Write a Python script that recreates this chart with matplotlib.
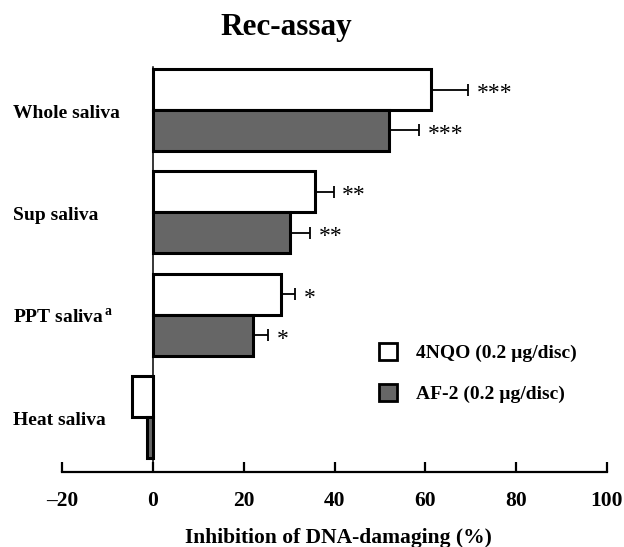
import matplotlib
matplotlib.use("Agg")
import matplotlib.pyplot as plt
import matplotlib.transforms as mtransforms
from matplotlib.patches import Patch
import numpy as np

groups = ["Whole saliva", "Sup saliva", "PPT saliva$^{\\,\\mathregular{a}}$", "Heat saliva"]
nqo = [61.3, 35.6, 28.3, -4.6]
nqo_err = [8.2, 4.2, 3.1, 0]
af2 = [52.0, 30.3, 22.1, -1.3]
af2_err = [6.7, 4.4, 3.3, 0]
nqo_stars = ["***", "**", "*", ""]
af2_stars = ["***", "**", "*", ""]
series_labels = ["4NQO (0.2 \u00b5g/disc)", "AF-2 (0.2 \u00b5g/disc)"]
xticks = [-20, 0, 20, 40, 60, 80, 100]
xticklabels = ["\u201320", "0", "20", "40", "60", "80", "100"]

plt.rcParams["font.family"] = ["Liberation Serif", "DejaVu Serif"]
plt.rcParams["font.weight"] = "bold"
plt.rcParams["mathtext.fontset"] = "custom"
plt.rcParams["mathtext.rm"] = "Liberation Serif:bold"

fig = plt.figure(figsize=(6.24, 5.47), dpi=100)
ax = fig.add_axes([62 / 624, 75 / 547, 545 / 624, 405 / 547])

gray = "#666666"
ypos = np.array([3, 2, 1, 0], dtype=float)
h = 0.4
ax.barh(ypos + h / 2, nqo, height=h, color="white", edgecolor="black", linewidth=2.2, zorder=3)
ax.barh(ypos - h / 2, af2, height=h, color=gray, edgecolor="black", linewidth=2.2, zorder=3)

for i in range(len(groups)):
    for val, err, yy, star in ((nqo[i], nqo_err[i], ypos[i] + h / 2, nqo_stars[i]),
                               (af2[i], af2_err[i], ypos[i] - h / 2, af2_stars[i])):
        if err > 0:
            ax.errorbar(val, yy, xerr=[[0], [err]], fmt="none", ecolor="black",
                        elinewidth=1.3, capsize=4.5, capthick=1.3, zorder=2)
        if star:
            ax.text(val + err + 1.8, yy - 0.04, star, ha="left", va="center",
                    fontsize=17, fontweight="normal")

ax.set_xlim(-20, 100)
ax.set_ylim(-0.537, 3.42)
ax.spines["top"].set_visible(False)
ax.spines["right"].set_visible(False)
ax.spines["left"].set_position(("data", 0))
ax.spines["left"].set_linewidth(1.1)
ax.spines["bottom"].set_linewidth(1.6)
ax.set_yticks([])
ax.set_xticks(xticks)
ax.set_xticklabels(xticklabels, fontsize=15.5, fontweight="bold")
ax.tick_params(axis="x", direction="in", length=7, width=1.6, pad=14)

trans = mtransforms.blended_transform_factory(fig.transFigure, ax.transData)
for yy, name in zip(ypos, groups):
    fig.text(13 / 624, yy - 0.03, name, transform=trans, ha="left", va="center",
             fontsize=14, fontweight="bold")

fig.text(286 / 624, 1 - 35 / 547, "Rec-assay", ha="center", va="baseline",
         fontsize=22.5, fontweight="bold")
fig.text(338 / 624, 1 - 543 / 547, "Inhibition of DNA-damaging (%)", ha="center",
         va="baseline", fontsize=15.5, fontweight="bold")

handles = [Patch(facecolor="white", edgecolor="black", linewidth=2),
           Patch(facecolor=gray, edgecolor="black", linewidth=2)]
ax.legend(handles, series_labels, loc="upper left", bbox_to_anchor=(379 / 624, 1 - 343 / 547),
          bbox_transform=fig.transFigure, frameon=False,
          handlelength=0.95, handleheight=0.95, handletextpad=0.95,
          labelspacing=1.12, borderpad=0, borderaxespad=0,
          prop={"weight": "bold", "size": 14})

fig.savefig("out.png", dpi=100)
